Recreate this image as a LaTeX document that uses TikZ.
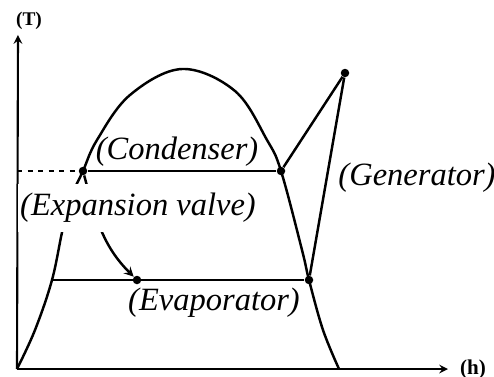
\documentclass[tikz,border=0pt]{standalone}
\usepackage{fontspec}
\setmainfont{Liberation Serif}
\begin{document}
\begin{tikzpicture}[
        x=0.02cm, y=0.02cm,
        line join=round,
        dot/.style={circle, fill, inner sep=0pt, minimum size=0.17cm},
        lbl/.style={font=\fontsize{18.5}{21}\selectfont\itshape, inner sep=1pt},
        curve/.style={line width=1.4pt},
        axis/.style={line width=1.2pt},
    ]
    
    \useasboundingbox (0,0) rectangle (494,376);
    
    % 参数
    \def\Yc{205}   % 冷凝线高度
    \def\Ye{96}    % 蒸发线高度
    
    % 原点与轴端点
    \coordinate (O) at (17,7);
    \coordinate (Xend) at (448,7);
    \coordinate (Yend) at (18,341);
    \coordinate (Ya) at (17,\Yc);
    \coordinate (L) at (52,\Ye);
    
    % ---- 坐标轴 ----
    \draw[-stealth, axis] (O) -- (Xend);
    \draw[-stealth, axis] (O) -- (Yend);
    \node[font=\fontsize{11}{12}\selectfont\bfseries] (T) at (29,355) {(T)};
    \node[font=\fontsize{12}{12}\selectfont\bfseries] (h) at (473,7) {(h)};
    
    % ---- 饱和曲线 ----
    \draw[curve] plot[smooth, tension=0.6] coordinates {
        (17,7) (35,46) (52,96) (63,148) (73,183) (83,205) (97,236)
        (130,281) (182,307) (235,285) (267,236) (281,205)
        (302,126) (309,96) (323,46) (339,7)};
    
    % 状态点
    \node[dot] (A) at (83,\Yc) {};
    \node[dot] (B) at (281,\Yc) {};
    \node[dot] (C) at (345,303) {};
    \node[dot] (D) at (309,\Ye) {};
    \node[dot] (E) at (137,\Ye) {};
    
    % ---- 循环线 ----
    \draw[dashed, axis] (Ya) -- (A);
    \draw[curve] (A) -- (B);
    \draw[curve] (B) -- (C);
    \draw[curve] (C) -- (D);
    \draw[curve] (L) -- (D);
    \draw[curve, -stealth] (A) to[out=-75, in=135] (E);
    
    % 标签
    \node[lbl] (cond) at (177,224) {(Condenser)};
    \node[lbl, fill=white, inner ysep=5pt] (exp) at (138,168) {(Expansion valve)};
    \node[lbl] (gen) at (417,198) {(Generator)};
    \node[lbl] (evap) at (214,73) {(Evaporator)};
    
\end{tikzpicture}
\end{document}
